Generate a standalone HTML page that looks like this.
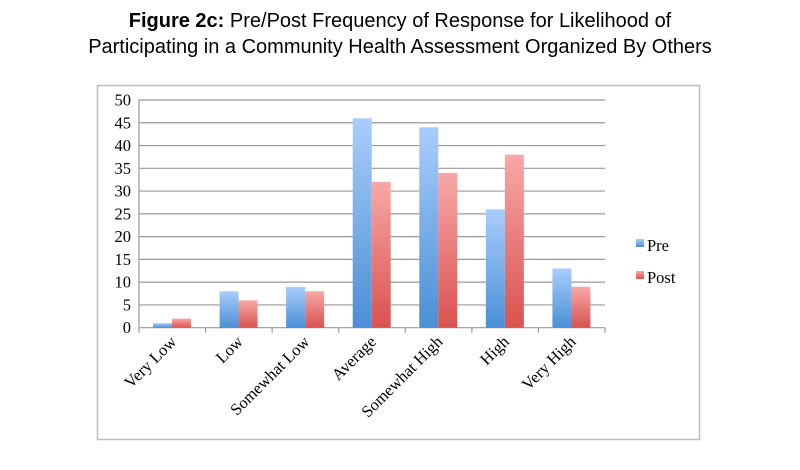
<!DOCTYPE html>
<html><head><style>body{margin:0;background:#fff}</style></head><body>
<svg width="800" height="465" xmlns="http://www.w3.org/2000/svg">
<defs>
<linearGradient id="b" x1="0" y1="0" x2="0" y2="1"><stop offset="0" stop-color="#a9cdfb"/><stop offset="1" stop-color="#4a8fd6"/></linearGradient>
<linearGradient id="r" x1="0" y1="0" x2="0" y2="1"><stop offset="0" stop-color="#f8a8a6"/><stop offset="1" stop-color="#d9524f"/></linearGradient>
</defs>
<text x="400" y="27" text-anchor="middle" font-family="Liberation Sans, sans-serif" font-size="20"><tspan font-weight="bold">Figure 2c:</tspan> Pre/Post Frequency of Response for Likelihood of</text>
<text x="400" y="53" text-anchor="middle" font-family="Liberation Sans, sans-serif" font-size="20">Participating in a Community Health Assessment Organized By Others</text>
<rect x="97.5" y="85.5" width="602" height="354" fill="none" stroke="#bbb" stroke-width="1.5"/>
<g id="g"></g>
<rect x="636" y="239" width="8" height="8" fill="url(#b)"/>
<text x="647" y="251" font-family="Liberation Serif, serif" font-size="16.5">Pre</text>
<rect x="636" y="271" width="8" height="8" fill="url(#r)"/>
<text x="647" y="283" font-family="Liberation Serif, serif" font-size="16.5">Post</text>
<script>
var ns="http://www.w3.org/2000/svg",g=document.getElementById('g');
function el(t,a,txt){var e=document.createElementNS(ns,t);for(var k in a)e.setAttribute(k,a[k]);if(txt)e.textContent=txt;g.appendChild(e);return e;}
var x0=139,x1=605,y0=327.7,sc=(327.7-100)/50,cw=(x1-x0)/7;
for(var v=0;v<=50;v+=5){var y=y0-v*sc;if(v>0)el('line',{x1:x0,x2:x1,y1:y,y2:y,stroke:'#999','stroke-width':1.2});
el('text',{x:131,y:y+5.5,'text-anchor':'end','font-family':'Liberation Serif, serif','font-size':16.5},String(v));}
el('line',{x1:x0,x2:x0,y1:100,y2:y0,stroke:'#999','stroke-width':1.2});
el('line',{x1:x0,x2:x1,y1:y0,y2:y0,stroke:'#999','stroke-width':1.2});
var cats=["Very Low","Low","Somewhat Low","Average","Somewhat High","High","Very High"],pre=[1,8,9,46,44,26,13],post=[2,6,8,32,34,38,9];
for(var i=0;i<7;i++){var cx=x0+i*cw;
el('line',{x1:cx,x2:cx,y1:y0,y2:y0+5,stroke:'#999','stroke-width':1.2});
el('rect',{x:cx+14,y:y0-pre[i]*sc,width:19,height:pre[i]*sc,fill:'url(#b)'});
el('rect',{x:cx+33,y:y0-post[i]*sc,width:19,height:post[i]*sc,fill:'url(#r)'});
var mx=cx+cw/2+5;el('text',{x:mx,y:y0+15,'text-anchor':'end','font-family':'Liberation Serif, serif','font-size':16.5,transform:'rotate(-45 '+mx+' '+(y0+15)+')'},cats[i]);}
el('line',{x1:x1,x2:x1,y1:y0,y2:y0+5,stroke:'#999','stroke-width':1.2});
</script>
</svg>
</body></html>
